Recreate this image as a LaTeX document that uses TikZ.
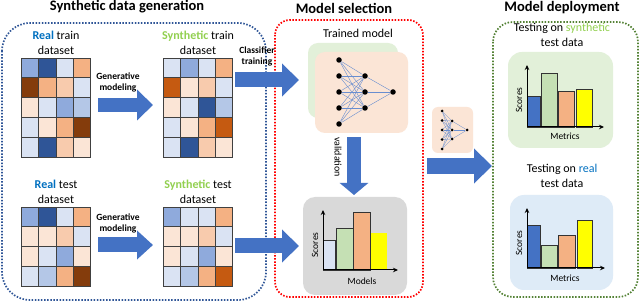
\documentclass[tikz,border=0pt]{standalone}
\usepackage{fontspec}
\setmainfont{Carlito}
\usetikzlibrary{arrows.meta}
\usetikzlibrary{positioning}

\definecolor{arrowblue}{HTML}{4472C4}
\definecolor{realblue}{HTML}{0070C0}
\definecolor{synthgreen}{HTML}{92D050}
\definecolor{dotblue}{HTML}{2F5597}
\definecolor{dotred}{HTML}{FF0000}
\definecolor{dotgreen}{HTML}{548235}
\definecolor{netgreen}{HTML}{E2F0D9}
\definecolor{netorange}{HTML}{FBE5D6}
\definecolor{panelgrey}{HTML}{D9D9D9}
\definecolor{panelblue}{HTML}{DEEBF7}
\definecolor{barlblue}{HTML}{DAE3F3}
\definecolor{bargreen}{HTML}{C5E0B4}
\definecolor{barorange}{HTML}{F4B183}
\definecolor{baryellow}{HTML}{FFFF00}
% heat map cells
\definecolor{hdb}{HTML}{2F5597}
\definecolor{hmb}{HTML}{8FAADC}
\definecolor{hlb}{HTML}{DAE3F3}
\definecolor{hpb}{HTML}{B4C7E7}
\definecolor{hdo}{HTML}{843C0C}
\definecolor{hoo}{HTML}{C55A11}
\definecolor{hmo}{HTML}{F4B183}
\definecolor{hlo}{HTML}{F8CBAD}
\definecolor{hvo}{HTML}{FBE5D6}

\newcommand{\heatgrid}[3]{%
  \foreach \cells [count=\r from 0] in {#3} {
    \foreach \cc [count=\k from 0] in \cells {
      \draw[heat, fill=\cc] (#1+\k*17.4, #2+\r*19.8) rectangle ++(17.4,19.8);
    }
  }
}

\begin{document}
\begin{tikzpicture}[
  x=1pt,
  y=-1pt,
  every node/.style={font=\fontsize{12}{15}\selectfont, inner sep=0pt},
  title/.style={font=\fontsize{14.5}{17}\selectfont\bfseries},
  caption/.style={align=center},
  small/.style={font=\fontsize{9.5}{11}\selectfont\bfseries, align=center},
  axislabel/.style={font=\fontsize{9.5}{11}\selectfont},
  group/.style={rounded corners=#1, line width=1.7pt, dash pattern=on 1.5pt off 1.6pt},
  heat/.style={draw=black!75, line width=0.6pt},
  frame/.style={minimum width=69.6pt, anchor=north west},
  bigarrow/.style={draw=arrowblue, line width=14pt, -{Triangle[length=16pt, width=30pt]}},
  panel/.style={rounded corners=#1, draw=none},
  neuron/.style={circle, fill=black, inner sep=0pt, minimum size=5.5pt},
  synapse/.style={draw=arrowblue!80, line width=0.4pt},
  bar/.style={draw=black!80, line width=0.7pt},
  axis/.style={line width=1pt, -{Stealth[length=5pt, width=4.5pt]}}
]

\fill[white] (0,0) rectangle (640,304);
\useasboundingbox (0,0) rectangle (640,304);

% titles
\node[title] (gentitle) at (127,7) {Synthetic data generation};
\node[title] (seltitle) at (344,8) {Model selection};
\node[title] (deptitle) at (562,8) {Model deployment};

% groups
\draw[group=28pt, draw=dotblue] (2,23) rectangle (266,300);
\draw[group=15pt, draw=dotred] (275,20) rectangle (423,297);
\draw[group=20pt, draw=dotgreen] (493,22) rectangle (638,297);

% data sets
\heatgrid{21}{58}{{hmb,hdb,hlb,hmo},{hdo,hmo,hlo,hlb},{hvo,hlb,hmb,hpb},{hlb,hvo,hmo,hdo},{hlb,hdb,hlo,hvo}}
\heatgrid{163}{58}{{hlb,hmb,hlb,hmo},{hoo,hvo,hlo,hlb},{hvo,hlb,hdb,hpb},{hlb,hvo,hmo,hoo},{hlb,hdb,hlo,hvo}}
\heatgrid{21}{207}{{hmb,hdb,hlb,hmo},{hvo,hvo,hlo,hlb},{hvo,hlb,hmb,hvo},{hlb,hpb,hmo,hdo}}
\heatgrid{163}{207}{{hmb,hlb,hlb,hmo},{hvo,hvo,hlo,hlb},{hvo,hlb,hmb,hvo},{hlb,hpb,hmo,hoo}}

\node[frame, minimum height=99pt] (realtrain) at (21,58) {};
\node[frame, minimum height=79.2pt] (realtest) at (21,207) {};
\node[frame, minimum height=99pt] (syntrain) at (163,58) {};
\node[frame, minimum height=79.2pt] (syntest) at (163,207) {};

\node[caption, above=3pt of realtrain] {\textcolor{realblue}{\textbf{Real}} train\\dataset};
\node[caption, above=3pt of syntrain] {\textcolor{synthgreen}{\textbf{Synthetic}} train\\dataset};
\node[caption, above=3pt of realtest] {\textcolor{realblue}{\textbf{Real}} test\\dataset};
\node[caption, above=3pt of syntest] {\textcolor{synthgreen}{\textbf{Synthetic}} test\\dataset};

% generative modeling
\coordinate (gen1s) at (98,105);
\coordinate (gen1e) at (153,105);
\coordinate (gen2s) at (98,245);
\coordinate (gen2e) at (153,245);
\draw[bigarrow] (gen1s) -- (gen1e);
\draw[bigarrow, line width=15pt, -{Triangle[length=16pt, width=28pt]}] (gen2s) -- (gen2e);
\node[small] (gen1label) at (118,82.5) {Generative\\modeling};
\node[small] (gen2label) at (118,223.5) {Generative\\modeling};

% trained model
\node (trainedlabel) at (358,33) {Trained model};
\node[panel=10pt, fill=netgreen, minimum width=90pt, minimum height=75pt] (trainedback) at (353,80.5) {};
\node[panel=10pt, fill=netorange, minimum width=93pt, minimum height=81pt] (trained) at (361.5,92.5) {};

\foreach \i/\yy in {1/60,2/76,3/92,4/108,5/124}
  \node[neuron] (in\i) at (339,\yy) {};
\foreach \j/\yy in {1/76,2/92,3/108}
  \node[neuron] (hid\j) at (365,\yy) {};
\node[neuron] (out) at (393,92) {};
\foreach \i in {1,...,5}
  \foreach \j in {1,2,3}
    \draw[synapse] (in\i) -- (hid\j);
\foreach \j in {1,2,3}
  \draw[synapse] (hid\j) -- (out);

\coordinate (clss) at (235,80);
\coordinate (clse) at (299,80);
\draw[bigarrow, line width=15pt, -{Triangle[length=17pt, width=32pt]}] (clss) -- (clse);
\node[small] (clslabel) at (257,56) {Classifier\\training};

% validation
\coordinate (vals) at (354,137);
\coordinate (vale) at (354,195);
\draw[bigarrow, -{Triangle[length=12pt, width=28pt]}] (vals) -- (vale);
\node[font=\fontsize{10}{12}\selectfont, rotate=-90] (vallabel) at (338,157) {validation};

\coordinate (tests) at (235,246);
\coordinate (teste) at (299,246);
\draw[bigarrow, line width=15pt, -{Triangle[length=17pt, width=32pt]}] (tests) -- (teste);

% model scores
\node[panel=12pt, fill=panelgrey, minimum width=104pt, minimum height=98pt] (models) at (355,246) {};
\foreach \xa/\xb/\top/\col in {323/335/240/barlblue, 336/353/228/bargreen, 353/370/212/barorange}
  \draw[bar, fill=\col] (\xa,270) rectangle (\xb,\top);
\fill[baryellow] (371,270) rectangle (387,233);
\coordinate (selorigin) at (323,270);
\coordinate (selytop) at (323,210);
\coordinate (selxend) at (398,270);
\draw[axis] (selorigin) -- (selytop);
\draw[axis] (selorigin) -- (selxend);
\node[axislabel, rotate=90] (selscores) at (315,245) {Scores};
\node[axislabel] (selmodels) at (362,281) {Models};

% deployment
\node[panel=6pt, fill=netorange, minimum width=41pt, minimum height=46pt] (deployed) at (452.5,130) {};
\foreach \i/\yy in {1/111,2/120.5,3/130,4/139.5,5/149}
  \node[neuron, minimum size=3pt] (sin\i) at (442,\yy) {};
\foreach \j/\yy in {1/121,2/130,3/139}
  \node[neuron, minimum size=3pt] (shid\j) at (452,\yy) {};
\node[neuron, minimum size=3pt] (sout) at (467,130) {};
\foreach \i in {1,...,5}
  \foreach \j in {1,2,3}
    \draw[synapse, line width=0.3pt] (sin\i) -- (shid\j);
\foreach \j in {1,2,3}
  \draw[synapse, line width=0.3pt] (shid\j) -- (sout);

\coordinate (deps) at (427,166);
\coordinate (depe) at (492,166);
\draw[bigarrow, line width=16pt, -{Triangle[length=18pt, width=34pt]}] (deps) -- (depe);

% testing on synthetic
\node[caption] (synthtest) at (562,34.5) {Testing on \textcolor{synthgreen}{synthetic}\\test data};
\node[panel=14pt, fill=netgreen, minimum width=105pt, minimum height=96pt] (synthpanel) at (560.5,100) {};
\foreach \xa/\xb/\top/\col in {527/540/96/arrowblue, 541/557/73/bargreen, 558/574/91/barorange, 576/592/89/baryellow}
  \draw[bar, fill=\col] (\xa,127) rectangle (\xb,\top);
\coordinate (syorigin) at (527,127);
\coordinate (syytop) at (527,65);
\coordinate (syxend) at (604,127);
\draw[axis] (syorigin) -- (syytop);
\draw[axis] (syorigin) -- (syxend);
\node[axislabel, rotate=90] (syscores) at (519,100) {Scores};
\node[axislabel] (symetrics) at (565,136) {Metrics};

% testing on real
\node[caption] (realtesting) at (562,175.5) {Testing on \textcolor{realblue}{real}\\test data};
\node[panel=14pt, fill=panelblue, minimum width=103pt, minimum height=95pt] (realpanel) at (561.5,242.5) {};
\foreach \xa/\xb/\top/\col in {527/540/225/arrowblue, 541/557/245/bargreen, 558/575/235/barorange, 577/592/220/baryellow}
  \draw[bar, fill=\col] (\xa,268) rectangle (\xb,\top);
\coordinate (reorigin) at (527,268);
\coordinate (reytop) at (527,208);
\coordinate (rexend) at (605,268);
\draw[axis] (reorigin) -- (reytop);
\draw[axis] (reorigin) -- (rexend);
\node[axislabel, rotate=90] (rescores) at (519,243) {Scores};
\node[axislabel] (remetrics) at (565,278) {Metrics};

\end{tikzpicture}
\end{document}
